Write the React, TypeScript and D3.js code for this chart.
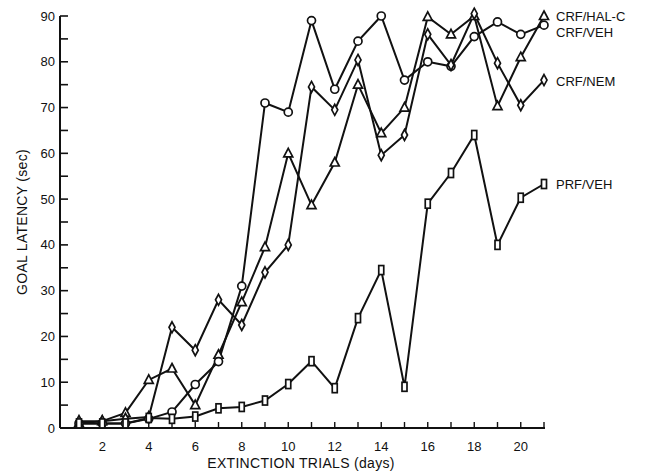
import React from 'react';
import * as d3 from 'd3';

const days = d3.range(1, 22);

const crfHalC = [1, 1.5, 3.3, 10.5, 13, 5, 16, 27.5, 39.5, 60, 48.7, 58, 75, 64.4, 70, 89.8, 86, 90, 70.3, 81, 90];
const crfVeh = [1, 1, 1, 2, 3.5, 9.5, 14.5, 31, 71, 69, 89, 74, 84.5, 90, 76, 80, 79, 85.5, 88.7, 86, 88];
const crfNem = [1.5, 1.5, 2, 2.4, 22, 17, 28, 22.5, 34, 40, 74.5, 69.5, 80.4, 59.6, 64, 86, 79.3, 90.5, 79.7, 70.5, 76];
const prfVeh = [1, 1, 1, 2.2, 2, 2.5, 4.3, 4.6, 6, 9.6, 14.6, 8.7, 24, 34.5, 9, 49, 55.7, 64, 40, 50.3, 53.3];

const seriesNames = ['CRF/HAL-C', 'CRF/VEH', 'CRF/NEM', 'PRF/VEH'];
const xTickLabels = [2, 4, 6, 8, 10, 12, 14, 16, 18, 20];
const yTickLabels = [0, 10, 20, 30, 40, 50, 60, 70, 80, 90];

const W = 651;
const H = 473;
const font = '"Liberation Sans", Arial, Helvetica, sans-serif';

function Marker({ kind, cx, cy }: { kind: string; cx: number; cy: number }) {
  const st = { fill: '#fff', stroke: '#111', strokeWidth: 1.7 };
  if (kind === 'circle') return <circle cx={cx} cy={cy} r={4} {...st} />;
  if (kind === 'triangle')
    return <path d={`M${cx},${cy - 5}L${cx + 4.5},${cy + 3.5}L${cx - 4.5},${cy + 3.5}Z`} {...st} />;
  if (kind === 'diamond')
    return <path d={`M${cx},${cy - 5.5}L${cx + 3},${cy}L${cx},${cy + 5.5}L${cx - 3},${cy}Z`} {...st} />;
  return <rect x={cx - 2.5} y={cy - 4.5} width={5} height={9} {...st} />;
}

export default function App() {
  const x = d3.scaleLinear().domain([1, 21]).range([79, 544]);
  const y = d3.scaleLinear().domain([0, 90]).range([428, 16]);
  const x0 = 60;
  const xEnd = x(21) + 1;

  const series = [
    { name: seriesNames[0], values: crfHalC, kind: 'triangle' },
    { name: seriesNames[1], values: crfVeh, kind: 'circle' },
    { name: seriesNames[2], values: crfNem, kind: 'diamond' },
    { name: seriesNames[3], values: prfVeh, kind: 'square' },
  ];
  // label baselines beside the last points
  const labelY = [y(90) + 5, y(86.4) + 5, y(75.7) + 5, y(53.3) + 5];

  const line = d3
    .line<number>()
    .x((_, i) => x(days[i]))
    .y((v) => y(v));

  const yTicks = d3.range(0, 91, 5);

  return (
    <svg width={W} height={H} style={{ position: 'absolute', left: 0, top: 0, background: '#fff' }}>
      <g fontFamily={font} fontSize={13} fill="#111">
        {/* y axis */}
        <line x1={x0} x2={x0} y1={y(0)} y2={y(90)} stroke="#111" strokeWidth={2} />
        {yTicks.map((t) => (
          <line key={t} x1={x0} x2={x0 + 8} y1={y(t)} y2={y(t)} stroke="#111" strokeWidth={1.6} />
        ))}
        {yTickLabels.map((t) => (
          <text key={t} x={x0 - 5} y={y(t)} dy="0.35em" textAnchor="end">
            {t}
          </text>
        ))}
        {/* x axis */}
        <line x1={x0} x2={xEnd} y1={y(0)} y2={y(0)} stroke="#111" strokeWidth={2} />
        {days.map((d) => (
          <line key={d} x1={x(d)} x2={x(d)} y1={y(0)} y2={y(0) - 6} stroke="#111" strokeWidth={1.4} />
        ))}
        {xTickLabels.map((d) => (
          <text key={d} x={x(d)} y={y(0) + 23} textAnchor="middle">
            {d}
          </text>
        ))}
        <text x={301} y={468} textAnchor="middle" fontSize={14} letterSpacing={0.3}>
          EXTINCTION TRIALS (days)
        </text>
        <text transform={`translate(27,222) rotate(-90)`} textAnchor="middle" fontSize={14} letterSpacing={0.3}>
          GOAL LATENCY (sec)
        </text>

        {series.map((s) => (
          <path key={s.name} d={line(s.values) || ''} fill="none" stroke="#111" strokeWidth={2} />
        ))}
        {series.map((s) => (
          <g key={s.name + 'm'}>
            {s.values.map((v, i) => (
              <Marker key={i} kind={s.kind} cx={x(days[i])} cy={y(v)} />
            ))}
          </g>
        ))}
        {series.map((s, i) => (
          <text key={s.name + 'l'} x={556} y={labelY[i]} fontSize={13}>
            {s.name}
          </text>
        ))}
      </g>
    </svg>
  );
}
